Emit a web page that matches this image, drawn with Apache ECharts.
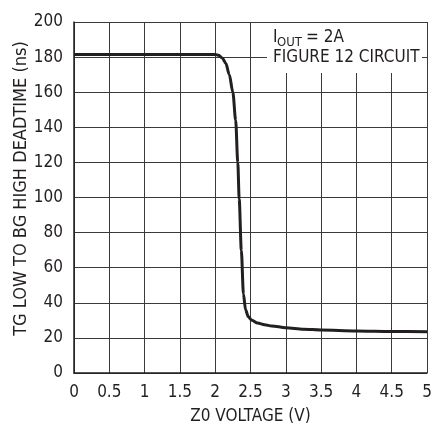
<!DOCTYPE html>
<html>
<head>
<meta charset="utf-8">
<script src="https://cdn.jsdelivr.net/npm/echarts@6/dist/echarts.min.js"></script>
<style>
  html, body { margin: 0; padding: 0; background: #fff; }
  #chart { width: 431px; height: 430px; }
</style>
</head>
<body>
<div id="chart"></div>
<script>
// Z0 voltage (V) and deadtime (ns)
const z0Volts = [0, 0.5, 1, 1.5, 2.0, 2.05, 2.1, 2.15, 2.2, 2.25, 2.29, 2.32, 2.34, 2.37, 2.4, 2.43, 2.47, 2.52, 2.6, 2.7, 2.8, 3.0, 3.25, 3.5, 4.0, 4.5, 5.0];
const deadtime = [181.5, 181.5, 181.5, 181.5, 181.5, 181, 179.5, 176.5, 170, 160, 144, 120, 99, 70, 45, 36, 32, 30, 28.5, 27.5, 26.8, 25.8, 25, 24.5, 24, 23.7, 23.5];

const xTitle = 'Z0 VOLTAGE (V)';
const yTitle = 'TG LOW TO BG HIGH DEADTIME (ns)';

const FONT = '"DejaVu Sans Condensed", "Liberation Sans", sans-serif';
const INK = '#231f20';

let myChart = echarts.init(document.getElementById('chart'));
let option;

option = {
  animation: false,
  grid: { left: 74, right: 4, top: 22, bottom: 57, outerBoundsMode: 'none', containLabel: false },
  xAxis: {
    type: 'value',
    min: 0, max: 5, interval: 0.5,
    name: xTitle,
    nameLocation: 'middle',
    nameGap: 35,
    nameMoveOverlap: false,
    nameTextStyle: { fontFamily: FONT, fontSize: 17, color: INK },
    axisLine: { show: true, onZero: false, lineStyle: { color: INK, width: 1.5 } },
    axisTick: { show: false },
    axisLabel: { fontFamily: FONT, fontSize: 17, color: INK, margin: 11 },
    splitLine: { show: true, lineStyle: { color: '#3a3a3a', width: 1 } }
  },
  yAxis: {
    type: 'value',
    min: 0, max: 200, interval: 20,
    name: yTitle,
    nameLocation: 'middle',
    nameGap: 44,
    nameMoveOverlap: false,
    nameTextStyle: { fontFamily: FONT, fontSize: 18, color: INK, padding: [0, 0, 0, 18] },
    axisLine: { show: true, lineStyle: { color: INK, width: 1.5 } },
    axisTick: { show: false },
    axisLabel: { fontFamily: FONT, fontSize: 17, color: INK, margin: 11 },
    splitLine: { show: true, lineStyle: { color: '#3a3a3a', width: 1 } }
  },
  series: [
    {
      type: 'line',
      data: z0Volts.map((v, i) => [v, deadtime[i]]),
      showSymbol: false,
      smooth: 0.3,
      smoothMonotone: 'x',
      lineStyle: { color: INK, width: 3 },
      z: 5
    }
  ],
  graphic: [
    {
      type: 'rect',
      shape: { x: 267, y: 23, width: 155, height: 50 },
      style: { fill: '#fff' },
      z: 10
    },
    {
      type: 'text',
      style: { text: 'I', x: 273, y: 38, font: '17px ' + FONT, fill: INK, verticalAlign: 'middle' },
      z: 11
    },
    {
      type: 'text',
      style: { text: 'OUT', x: 277, y: 43, font: '13px ' + FONT, fill: INK, verticalAlign: 'middle' },
      z: 11
    },
    {
      type: 'text',
      style: { text: '= 2A', x: 306, y: 38, font: '17px ' + FONT, fill: INK, verticalAlign: 'middle' },
      z: 11
    },
    {
      type: 'text',
      style: { text: 'FIGURE 12 CIRCUIT', x: 273, y: 58, font: '17px ' + FONT, fill: INK, verticalAlign: 'middle' },
      z: 11
    }
  ]
};

option && myChart.setOption(option);
</script>
</body>
</html>
